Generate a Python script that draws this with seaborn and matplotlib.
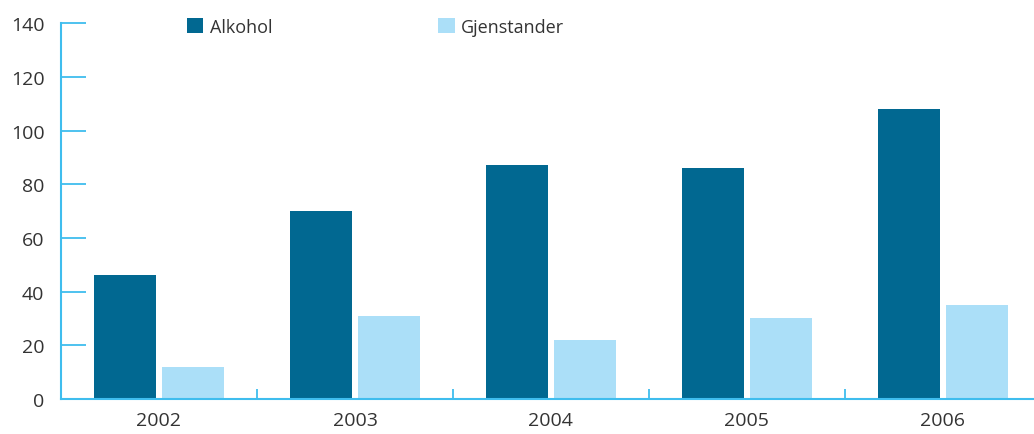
import pandas as pd
import matplotlib.pyplot as plt
import seaborn as sns
from matplotlib.ticker import FixedLocator

# Data
years = ['2002', '2003', '2004', '2005', '2006']
alkohol = [46, 70, 87, 86, 108]
gjenstander = [12, 31, 22, 30, 35]
series = ['Alkohol', 'Gjenstander']
colors = ['#016891', '#abdff8']

df = pd.DataFrame({
    'year': years * 2,
    'value': alkohol + gjenstander,
    'type': ['Alkohol'] * len(years) + ['Gjenstander'] * len(years),
})

sns.set_style('white')
plt.rcParams['font.family'] = ['Open Sans', 'DejaVu Sans']

axis_col = '#3fbdee'
text_col = '#333333'

fig = plt.figure(figsize=(10.34, 4.35), dpi=100)
ax = fig.add_axes([0.059, 0.081, 0.941, 0.863])

sns.barplot(data=df, x='year', y='value', hue='type', hue_order=series,
            palette=colors, width=0.694, gap=0.088, saturation=1,
            linewidth=0, ax=ax)

ax.set_ylim(0, 140)
ax.set_xlim(-0.5, 4.465)
ax.set_yticks(range(0, 141, 20))
ax.set_xlabel('')
ax.set_ylabel('')

for s in ['top', 'right']:
    ax.spines[s].set_visible(False)
for s in ['left', 'bottom']:
    ax.spines[s].set_color(axis_col)
    ax.spines[s].set_linewidth(1.5)

ax.tick_params(axis='y', direction='in', length=18, width=1.3, color=axis_col,
               pad=12, labelsize=14, labelcolor=text_col, left=True)
ax.tick_params(axis='x', which='major', length=0, pad=9, labelsize=14,
               labelcolor=text_col)
ax.xaxis.set_minor_locator(FixedLocator([0.5, 1.5, 2.5, 3.5]))
ax.tick_params(axis='x', which='minor', direction='in', length=7, width=1.3,
               color=axis_col, bottom=True)

ax.legend(loc='center left', bbox_to_anchor=(0.174, 0.936), bbox_transform=fig.transFigure,
          ncol=2, frameon=False, fontsize=13, handlelength=0.9, handleheight=0.9,
          handletextpad=0.35, columnspacing=9.2, labelcolor=text_col,
          borderaxespad=0)

fig.savefig('out.png', dpi=100)
